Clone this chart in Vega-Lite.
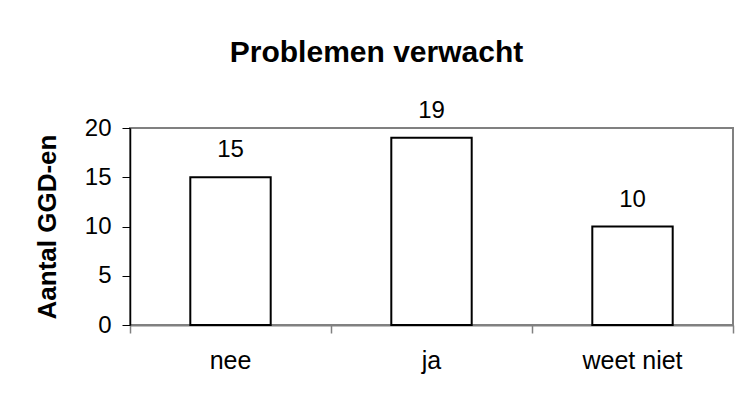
{
  "$schema": "https://vega.github.io/schema/vega-lite/v6.json",
  "width": 603,
  "height": 197,
  "autosize": {"type": "none"},
  "padding": {"left": 130, "top": 128, "right": 8, "bottom": 76},
  "background": "white",
  "title": {
    "text": "Problemen verwacht",
    "font": "Liberation Sans",
    "fontSize": 30,
    "fontWeight": "bold",
    "color": "black",
    "anchor": "middle",
    "frame": "group",
    "dx": -55,
    "offset": 31
  },
  "config": {
    "view": {"stroke": "#808080", "strokeWidth": 2},
    "axis": {"grid": false, "labelFont": "Liberation Sans", "titleFont": "Liberation Sans", "labelColor": "black", "titleColor": "black"}
  },
  "data": {"values": [
    {"antwoord": "nee", "aantal": 15},
    {"antwoord": "ja", "aantal": 19},
    {"antwoord": "weet niet", "aantal": 10}
  ]},
  "layer": [
    {
      "encoding": {
        "x": {"field": "antwoord", "type": "nominal", "sort": null,
          "scale": {"paddingInner": 0, "paddingOuter": 0},
          "axis": {"title": null, "labelAngle": 0, "labelFontSize": 25, "labelPadding": 23, "ticks": false, "domainColor": "#808080", "domainWidth": 2, "orient": "bottom"}},
        "y": {"field": "aantal", "type": "quantitative",
          "scale": {"domain": [0, 20]},
          "axis": {"title": "Aantal GGD-en", "titleFontSize": 26, "titleFontWeight": "bold", "titlePadding": 24, "values": [0, 5, 10, 15, 20], "labelFontSize": 24, "labelPadding": 11, "tickSize": 8, "tickColor": "black", "domainColor": "black", "domainWidth": 1.5}}
      },
      "layer": [
        {"mark": {"type": "bar", "fill": "white", "stroke": "black", "strokeWidth": 2, "width": {"band": 0.4}}},
        {
          "mark": {"type": "text", "font": "Liberation Sans", "fontSize": 24, "dy": -20, "baseline": "alphabetic", "color": "black"},
          "encoding": {"text": {"field": "aantal", "type": "quantitative"}}
        }
      ]
    },
    {
      "mark": {"type": "rule", "opacity": 0},
      "encoding": {
        "x": {"datum": 0, "type": "quantitative", "scale": {"domain": [0, 3], "nice": false, "zero": false},
          "axis": {"values": [0, 1, 2, 3], "labels": false, "domain": false, "ticks": true, "tickSize": 8, "tickColor": "#808080", "tickWidth": 1.5, "orient": "bottom", "title": null}}
      }
    }
  ],
  "resolve": {"scale": {"x": "independent"}, "axis": {"x": "independent"}}
}
